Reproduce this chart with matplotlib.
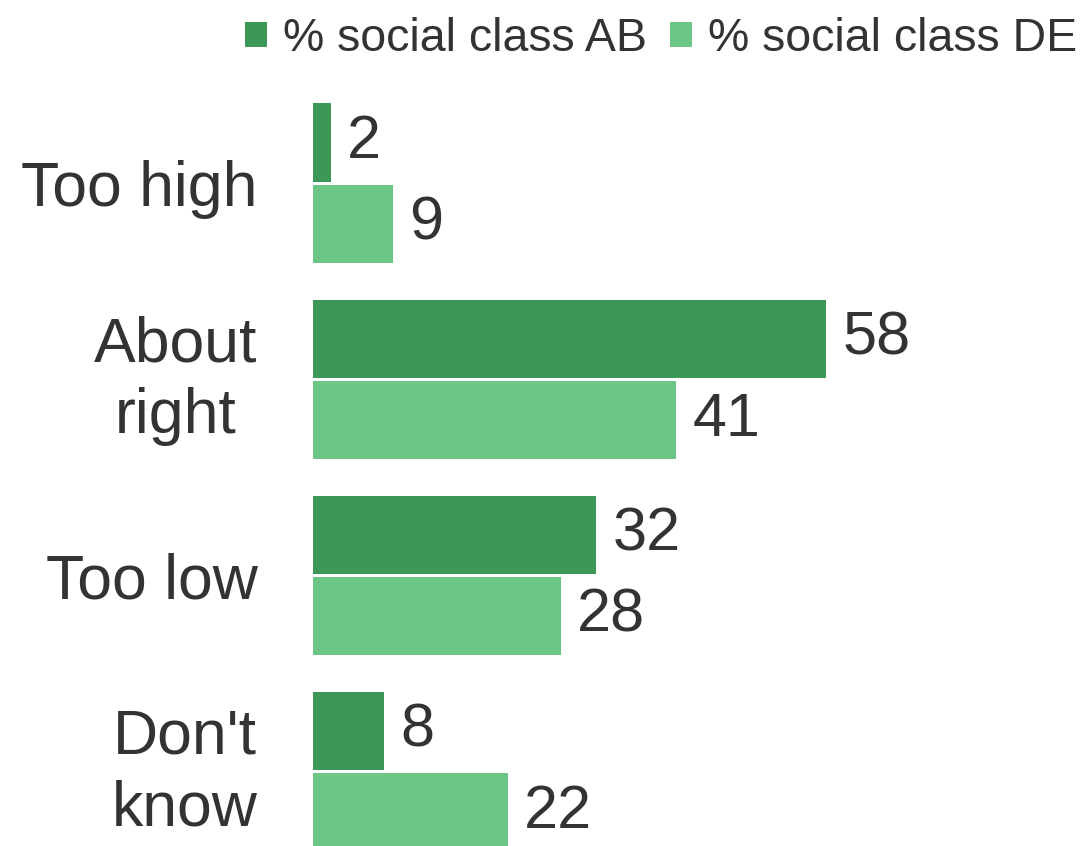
import numpy as np
import matplotlib
matplotlib.use('Agg')
import matplotlib.pyplot as plt
import matplotlib.transforms as mtransforms

categories = ['Too high', 'About\nright', 'Too low', "Don't\nknow"]
series_names = ['% social class AB', '% social class DE']
ab_values = [2, 58, 32, 8]
de_values = [9, 41, 28, 22]

colors = ['#3d9857', '#6dc586']
text_color = '#333333'

plt.rcParams['font.family'] = ['Liberation Sans', 'DejaVu Sans']

fig = plt.figure(figsize=(10.86, 8.46), dpi=100)
ax = fig.add_axes([313 / 1086, 0, 1 - 313 / 1086, 1])

y = np.arange(len(categories))
h = 0.398
off = 0.209
for vals, shift, col, name in [(ab_values, -off, colors[0], series_names[0]),
                               (de_values, off, colors[1], series_names[1])]:
    bars = ax.barh(y + shift, vals, height=h, color=col, label=name)
    for b, v in zip(bars, vals):
        ax.annotate(str(v), (b.get_width(), b.get_y() + b.get_height() / 2),
                    xytext=(12, 0), textcoords='offset points',
                    va='center', ha='left', fontsize=44, color=text_color)

ax.set_xlim(0, 87.4)
ax.set_ylim(3.380, -0.936)
ax.set_yticks(y)
ax.set_yticklabels(categories, fontsize=45, color=text_color,
                   multialignment='center', linespacing=1.27)
ax.tick_params(axis='y', length=0, pad=40)
ax.set_xticks([])
for s in ax.spines.values():
    s.set_visible(False)

# two-line labels sit a little high in the original
up = mtransforms.ScaledTranslation(0, 8 / 72, fig.dpi_scale_trans)
for lab in ax.get_yticklabels():
    if '\n' in lab.get_text():
        lab.set_transform(lab.get_transform() + up)

leg = fig.legend(loc='center right', bbox_to_anchor=(1077 / 1086, 1 - 39 / 846),
                 ncol=2, frameon=False, fontsize=33.5,
                 handlelength=0.47, handleheight=0.45,
                 handletextpad=0.34, columnspacing=0.5,
                 borderaxespad=0, borderpad=0)
for t in leg.get_texts():
    t.set_color(text_color)

fig.savefig('out.png', dpi=100)
